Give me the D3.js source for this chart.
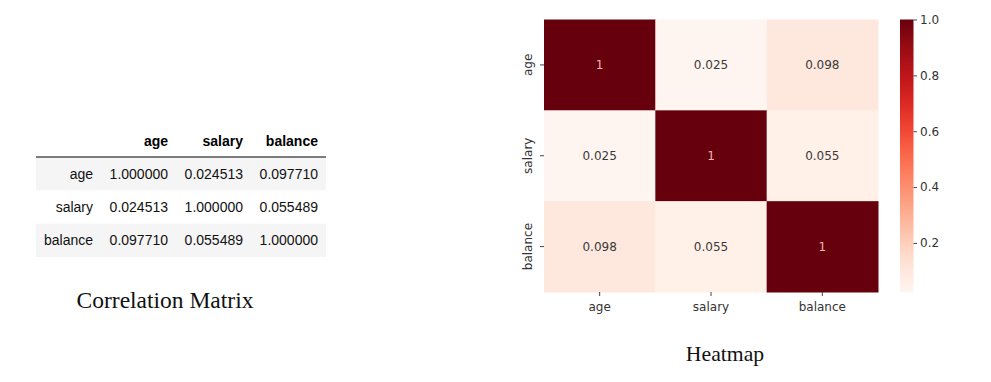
<!DOCTYPE html>
<html><head><meta charset="utf-8">
<script src="https://cdn.jsdelivr.net/npm/d3@7"></script>
<style>body{margin:0;background:#fff;} svg{display:block;}</style>
</head><body>
<svg id="c" width="991" height="382"></svg>
<script>
const variables = ["age", "salary", "balance"];
const corrAge = [1.000000, 0.024513, 0.097710];
const corrSalary = [0.024513, 1.000000, 0.055489];
const corrBalance = [0.097710, 0.055489, 1.000000];
const matrix = [corrAge, corrSalary, corrBalance];
const colorbarTicks = [0.2, 0.4, 0.6, 0.8, 1.0];

const svg = d3.select("#c");

// ---------- Table ----------
const tbl = svg.append("g").attr("font-family", "Liberation Sans, Arial, sans-serif").attr("font-size", 14);
const colRight = d3.scaleOrdinal().domain(["idx", ...variables]).range([93, 168, 243, 318]);
const rowY = d3.scaleBand().domain(variables).range([157, 257]);
variables.forEach((v, i) => {
  if (i % 2 === 0) tbl.append("rect").attr("x", 36).attr("y", rowY(v)).attr("width", 290).attr("height", rowY.bandwidth()).attr("fill", "#f5f5f5");
});
tbl.append("line").attr("x1", 36).attr("x2", 326).attr("y1", 157).attr("y2", 157).attr("stroke", "#000").attr("stroke-width", 1.2);
variables.forEach(v => {
  tbl.append("text").attr("x", colRight(v)).attr("y", 141).attr("text-anchor", "end").attr("dominant-baseline", "central").attr("font-weight", "bold").attr("fill", "#000").text(v);
});
matrix.forEach((row, i) => {
  const yy = rowY(variables[i]) + rowY.bandwidth() / 2;
  tbl.append("text").attr("x", colRight("idx")).attr("y", yy).attr("text-anchor", "end").attr("dominant-baseline", "central").attr("fill", "#111").text(variables[i]);
  row.forEach((val, j) => {
    tbl.append("text").attr("x", colRight(variables[j])).attr("y", yy).attr("text-anchor", "end").attr("dominant-baseline", "central").attr("fill", "#111").text(val.toFixed(6));
  });
});
svg.append("text").attr("x", 165).attr("y", 300).attr("text-anchor", "middle").attr("dominant-baseline", "central")
  .attr("font-family", "Liberation Serif, Times New Roman, serif").attr("font-size", 23.5).attr("fill", "#111").text("Correlation Matrix");

// ---------- Heatmap ----------
const x = d3.scaleBand().domain(variables).range([544, 878]);
const y = d3.scaleBand().domain(variables).range([19.5, 292]);
const flat = matrix.flat();
const color = d3.scaleSequential(d3.interpolateReds).domain([d3.min(flat), d3.max(flat)]);
const annFmt = d3.format(".2~g");
const hm = svg.append("g");
matrix.forEach((row, i) => row.forEach((val, j) => {
  hm.append("rect").attr("x", x(variables[j])).attr("y", y(variables[i])).attr("width", x.bandwidth() + 0.5).attr("height", y.bandwidth() + 0.5).attr("fill", color(val));
  const dark = val > 0.6;
  hm.append("text").attr("x", x(variables[j]) + x.bandwidth() / 2).attr("y", y(variables[i]) + y.bandwidth() / 2)
    .attr("text-anchor", "middle").attr("dominant-baseline", "central")
    .attr("font-family", "DejaVu Sans, sans-serif").attr("font-size", 12)
    .attr("fill", dark ? "#f2b3b3" : "#3a3a3a").text(annFmt(val));
}));
const axFont = g => g.attr("font-family", "DejaVu Sans, sans-serif").attr("font-size", 12);
const xAxis = svg.append("g").attr("transform", "translate(0,292)").call(d3.axisBottom(x).tickSize(4).tickPadding(4)).call(axFont);
const yAxis = svg.append("g").attr("transform", "translate(544,0)").call(d3.axisLeft(y).tickSize(4).tickPadding(4)).call(axFont);
[xAxis, yAxis].forEach(a => { a.select(".domain").remove(); a.selectAll(".tick line").attr("stroke", "#444"); a.selectAll(".tick text").attr("fill", "#333"); });
yAxis.selectAll(".tick text").attr("transform", "rotate(-90)").attr("x", 0).attr("y", -16).attr("dy", "0").attr("text-anchor", "middle").attr("dominant-baseline", "central");
xAxis.selectAll(".tick text").attr("dy", "0.9em");

// ---------- Colorbar ----------
const cb = d3.scaleLinear().domain([d3.min(flat), d3.max(flat)]).range([292, 19.5]);
const defs = svg.append("defs");
const grad = defs.append("linearGradient").attr("id", "cbg").attr("x1", 0).attr("y1", 1).attr("x2", 0).attr("y2", 0);
d3.range(0, 1.0001, 0.05).forEach(t => grad.append("stop").attr("offset", t).attr("stop-color", d3.interpolateReds(t)));
svg.append("rect").attr("x", 900).attr("y", 19.5).attr("width", 13.5).attr("height", 272.5).attr("fill", "url(#cbg)");
const cbAxis = svg.append("g").attr("transform", "translate(913.5,0)").call(d3.axisRight(cb).tickValues(colorbarTicks).tickFormat(d3.format(".1f")).tickSize(3.5).tickPadding(3)).call(axFont);
cbAxis.select(".domain").remove();
cbAxis.selectAll(".tick line").attr("stroke", "#444");
cbAxis.selectAll(".tick text").attr("fill", "#333");

svg.append("text").attr("x", 725).attr("y", 354).attr("text-anchor", "middle").attr("dominant-baseline", "central")
  .attr("font-family", "Liberation Serif, Times New Roman, serif").attr("font-size", 21.7).attr("fill", "#111").text("Heatmap");
</script>
</body></html>
